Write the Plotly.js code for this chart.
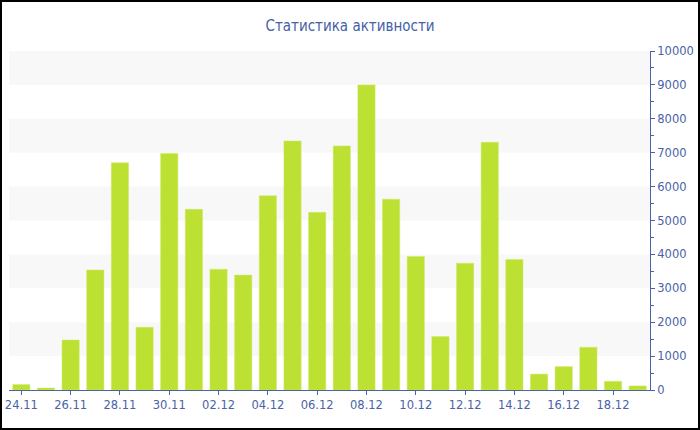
<!DOCTYPE html>
<html>
<head>
<meta charset="utf-8">
<script src="https://cdn.plot.ly/plotly-3.0.1.min.js"></script>
<style>
html,body{margin:0;padding:0;background:#fff;}
#wrap{position:relative;width:700px;height:430px;}
#chart{width:700px;height:430px;}
#frame{position:absolute;left:0;top:0;width:700px;height:430px;box-sizing:border-box;border:2px solid #000;pointer-events:none;}
</style>
</head>
<body>
<div id="wrap"><div id="chart"></div><div id="frame"></div></div>
<script>
const dates = ["24.11","25.11","26.11","27.11","28.11","29.11","30.11","01.12","02.12","03.12","04.12","05.12","06.12","07.12","08.12","09.12","10.12","11.12","12.12","13.12","14.12","15.12","16.12","17.12","18.12","19.12"];
const activity = [160,60,1475,3540,6700,1850,6980,5330,3560,3390,5730,7345,5240,7200,9000,5630,3940,1575,3740,7310,3850,470,690,1260,255,120];
const tickDates = ["24.11","26.11","28.11","30.11","02.12","04.12","06.12","08.12","10.12","12.12","14.12","16.12","18.12"];
const yTicks = [0,1000,2000,3000,4000,5000,6000,7000,8000,9000,10000];
const yTickText = ["0","1000","2000","3000","4000","5000","6000","7000","8000","9000","10000"];
const bandStarts = [1000,3000,5000,7000,9000];

const axisColor = '#4a62a6';
const shapes = bandStarts.map(s => ({
  type:'rect', xref:'paper', yref:'y', x0:0, x1:1, y0:s, y1:s+1000,
  fillcolor:'#f8f8f8', line:{width:0}, layer:'below'
}));

const trace = {
  type:'bar', x:dates, y:activity,
  marker:{color:'#bde132', line:{color:'#cfe86a', width:0.5}},
  hoverinfo:'x+y'
};

const tf = {family:'DejaVu Sans', size:11.5, color:axisColor};
const layout = {
  width:700, height:430,
  margin:{l:9, r:50, t:51, b:40},
  paper_bgcolor:'#fff', plot_bgcolor:'#fff',
  bargap:0.3,
  showlegend:false,
  title:{text:'Статистика активности', x:0.5, xanchor:'center', y:0.94, yanchor:'middle',
    font:{family:'DejaVu Sans Condensed, DejaVu Sans', size:15, color:'#4460a8'}},
  font:tf,
  xaxis:{type:'category', range:[-0.5, 25.5], tickmode:'array', tickvals:tickDates, ticktext:tickDates,
    ticks:'outside', ticklen:4, tickcolor:axisColor, showline:true, linecolor:axisColor, linewidth:1,
    showgrid:false, zeroline:false, tickfont:tf},
  yaxis:{side:'right', range:[0,10000], tickmode:'array', tickvals:yTicks, ticktext:yTickText,
    ticks:'outside', ticklen:4, tickcolor:axisColor, showline:true, linecolor:axisColor, linewidth:1,
    showgrid:false, zeroline:false, tickfont:tf,
    minor:{dtick:500, ticks:'outside', ticklen:3, tickcolor:axisColor, showgrid:false}},
  shapes:shapes
};
Plotly.newPlot('chart',[trace],layout,{displayModeBar:false, staticPlot:true});
</script>
</body>
</html>
